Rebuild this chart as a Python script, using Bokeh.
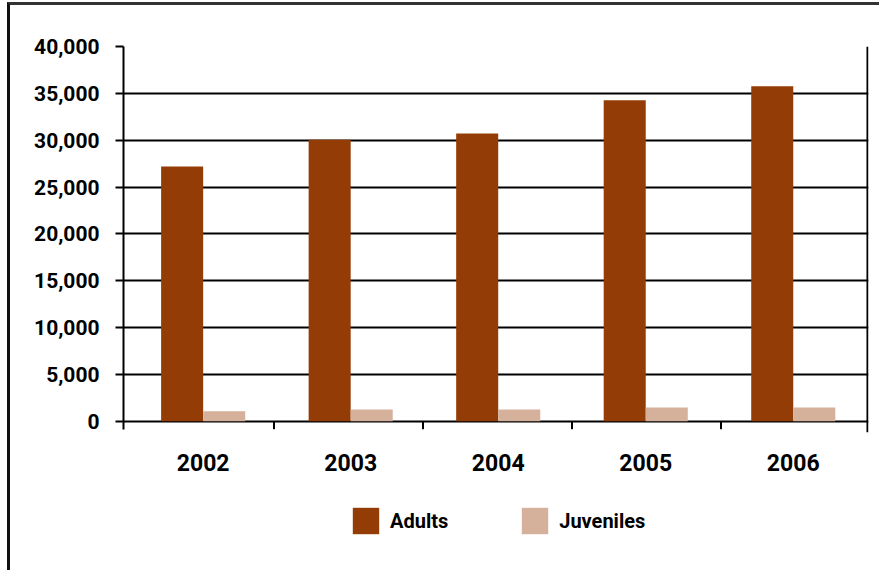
from bokeh.plotting import figure
from bokeh.models import (ColumnDataSource, Range1d, LinearAxis, FixedTicker,
                          Legend, LegendItem, NumeralTickFormatter)
from bokeh.core.properties import value
from bokeh.transform import dodge
from bokeh.embed import file_html
from bokeh.resources import INLINE

# Offenders by year
years = ["2002", "2003", "2004", "2005", "2006"]
adults = [27200, 30050, 30700, 34250, 35750]
juveniles = [1050, 1250, 1250, 1450, 1450]
y_ticks = [0, 5000, 10000, 15000, 20000, 25000, 30000, 35000, 40000]

ADULT_COLOR = "#943C06"
JUV_COLOR = "#D5B19B"
FONT = "Roboto"

x_pos = list(range(len(years)))
src = ColumnDataSource(dict(x=x_pos, year=years, adults=adults, juveniles=juveniles))

# The frame runs down to the bottom of the canvas so the year labels and the
# legend sit inside it; the value scale keeps 0..40,000 in the upper part.
X_START, X_END = -0.54, 4.51
Y_START, Y_END = -16258, 40000
TICK_LEN = 854          # 8 px in value units
LABEL_Y = -4400         # year label row

p = figure(width=872, height=568,
           x_range=Range1d(X_START, X_END), y_range=Range1d(Y_START, Y_END),
           output_backend="svg", toolbar_location=None,
           x_axis_location=None, y_axis_location=None,
           min_border_left=113, min_border_right=14,
           min_border_top=41, min_border_bottom=0)
# outer chart border (left and top edges)
p.styles = {"border-left": "3px solid #111", "border-top": "3px solid #333",
            "margin-left": "7px", "margin-top": "2px"}
p.outline_line_color = None
p.background_fill_color = "white"
p.border_fill_color = "white"

bar_w = 0.285
r_adult = p.vbar(x=dodge("x", -bar_w / 2, range=p.x_range), top="adults", width=bar_w,
                 source=src, fill_color=ADULT_COLOR, line_color=None)
r_juv = p.vbar(x=dodge("x", bar_w / 2, range=p.x_range), top="juveniles", width=bar_w,
               source=src, fill_color=JUV_COLOR, line_color=None)

# value axis, its line limited to the value scale
yax = LinearAxis(ticker=FixedTicker(ticks=y_ticks),
                 formatter=NumeralTickFormatter(format="0,0"),
                 bounds=(-TICK_LEN, Y_END))
yax.axis_line_color = "black"
yax.axis_line_width = 2
yax.major_tick_line_color = "black"
yax.major_tick_line_width = 2
yax.major_tick_in = 0
yax.major_tick_out = 8
yax.minor_tick_line_color = None
yax.major_label_standoff = 16
yax.major_label_text_font = FONT
yax.major_label_text_font_style = "bold"
yax.major_label_text_font_size = "21px"
yax.major_label_text_color = "black"
p.add_layout(yax, "left")

# horizontal grid (the 0 line doubles as the category axis line)
p.xgrid.visible = False
p.ygrid.ticker = FixedTicker(ticks=y_ticks)
p.ygrid.grid_line_color = "black"
p.ygrid.grid_line_width = 2

# category boundary tick marks below the axis line
bounds = [0.48, 1.49, 2.5, 3.51]
p.segment(x0=bounds, x1=bounds, y0=[0] * len(bounds), y1=[-TICK_LEN] * len(bounds),
          line_color="black", line_width=2)
# right-hand edge of the plot box, kept just inside the frame
edge_x = X_END - 0.007
p.segment(x0=[edge_x], x1=[edge_x], y0=[-1170], y1=[Y_END],
          line_color="black", line_width=2)

# year labels centred under each bar pair
p.text(x="x", y=LABEL_Y, text="year", source=src,
       text_align="center", text_baseline="middle",
       text_font=value(FONT), text_font_style="bold",
       text_font_size="23px", text_color="black")

legend = Legend(items=[LegendItem(label="Adults", renderers=[r_adult]),
                       LegendItem(label="Juveniles", renderers=[r_juv])],
                orientation="horizontal", location=(226, 36))
legend.border_line_color = None
legend.background_fill_alpha = 0
legend.glyph_width = 33
legend.glyph_height = 33
legend.label_standoff = 8
legend.spacing = 70
legend.padding = 0
legend.margin = 0
legend.label_text_font = FONT
legend.label_text_font_style = "bold"
legend.label_text_font_size = "20px"
legend.label_text_color = "black"
p.add_layout(legend, "center")

open("out.html", "w").write(file_html(p, INLINE))
